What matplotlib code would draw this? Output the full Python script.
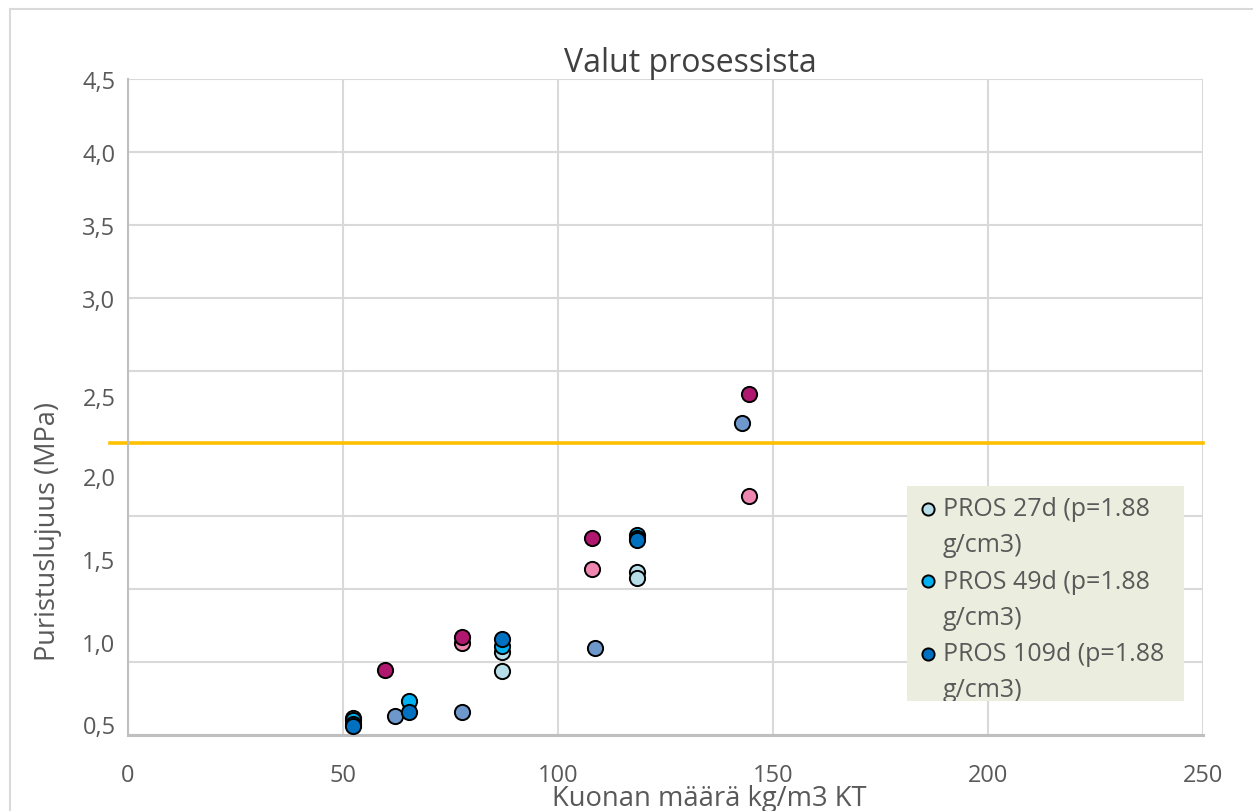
import matplotlib
matplotlib.use("Agg")
import matplotlib.pyplot as plt
from matplotlib.lines import Line2D
from matplotlib.patches import Rectangle
from matplotlib.transforms import Bbox, TransformedBbox

# --- data -------------------------------------------------------------
title = "Valut prosessista"
x_label = "Kuonan määrä kg/m3 KT"
y_label = "Puristuslujuus (MPa)"

pros27_x = [52.3, 87.0, 87.0, 118.4, 118.4]
pros27_y = [0.12, 0.57, 0.44, 1.12, 1.08]

pros49_x = [52.3, 65.3, 87.0, 118.4]
pros49_y = [0.10, 0.23, 0.61, 1.37]

pros109_x = [52.3, 52.3, 65.3, 87.0, 118.4, 118.4]
pros109_y = [0.075, 0.062, 0.158, 0.66, 1.35, 1.34]

steel_x = [62.1, 77.7, 108.6, 142.8]
steel_y = [0.13, 0.158, 0.60, 2.14]

pink_x = [77.7, 107.9, 144.4]
pink_y = [0.63, 1.14, 1.64]

magenta_x = [59.8, 77.7, 107.9, 144.4]
magenta_y = [0.445, 0.67, 1.35, 2.34]

limit_value = 2.0

legend_first_lines = ["PROS 27d (p=1.88", "PROS 49d (p=1.88", "PROS 109d (p=1.88"]
legend_second_line = "g/cm3)"

x_ticks = [0, 50, 100, 150, 200, 250]
grid_y = [0.0, 0.5, 1.0, 1.5, 2.0, 2.5, 3.0, 3.5, 4.0, 4.5]
y_tick_pos = [0.075, 0.637, 1.205, 1.774, 2.322, 3.0, 3.5, 4.0, 4.5]
y_tick_labels = ["0,5", "1,0", "1,5", "2,0", "2,5", "3,0", "3,5", "4,0", "4,5"]

# --- style ------------------------------------------------------------
plt.rcParams["font.family"] = ["Open Sans", "DejaVu Sans"]
text_color = "#595959"
grid_color = "#D9D9D9"

fig = plt.figure(figsize=(12.53, 8.12), dpi=100)
ax = fig.add_axes([0.1022, 0.0936, 0.8580, 0.8079])

# outer chart border
fig.add_artist(Rectangle((10 / 1253, -0.1), 1.2, 802 / 812 + 0.1,
                         transform=fig.transFigure, fill=False,
                         ec=grid_color, lw=1.5))

ms = 120
ec = "black"
lw = 1.4
ax.scatter(steel_x, steel_y, s=ms, c="#6E97CB", edgecolors=ec, linewidths=lw, zorder=3)
ax.scatter(pink_x, pink_y, s=ms, c="#EE86B0", edgecolors=ec, linewidths=lw, zorder=3)
ax.scatter(magenta_x, magenta_y, s=ms, c="#B0176E", edgecolors=ec, linewidths=lw, zorder=3)
h27 = ax.scatter(pros27_x, pros27_y, s=ms, c="#B7DEE8", edgecolors=ec, linewidths=lw, zorder=3)
h49 = ax.scatter(pros49_x, pros49_y, s=ms, c="#00B0F0", edgecolors=ec, linewidths=lw, zorder=3)
h109 = ax.scatter(pros109_x, pros109_y, s=ms, c="#0070C0", edgecolors=ec, linewidths=lw, zorder=3)

# strength limit line, extending slightly past the left axis
ax.axhline(limit_value, xmin=-0.017, xmax=1.0, color="#FFC000", lw=2.6,
           clip_on=False, zorder=2)

ax.set_xlim(0, 250)
ax.set_ylim(0, 4.5)

ax.set_xticks(x_ticks)
ax.set_xticklabels([str(v) for v in x_ticks])
ax.set_yticks(y_tick_pos)
ax.set_yticklabels(y_tick_labels)
ax.set_yticks(grid_y, minor=True)
ax.yaxis.remove_overlapping_locs = False
ax.tick_params(axis="both", which="both", length=0, labelsize=17, colors=text_color)
ax.tick_params(axis="y", which="major", pad=9)
ax.tick_params(axis="x", which="major", pad=20)

ax.grid(False, which="major", axis="y")
ax.grid(True, which="minor", axis="y", color=grid_color, lw=1.5)
ax.grid(True, which="major", axis="x", color=grid_color, lw=1.5)
ax.set_axisbelow(True)

for side in ["top", "right"]:
    ax.spines[side].set_visible(False)
ax.spines["left"].set_color("#BFBFBF")
ax.spines["left"].set_linewidth(1.5)
ax.spines["bottom"].set_color("#BFBFBF")
ax.spines["bottom"].set_linewidth(2.2)

ax.set_title(title, fontsize=23, color="#404040", pad=3, x=0.523)
ax.set_xlabel(x_label, fontsize=19.7, color=text_color)
ax.xaxis.set_label_coords(0.541, -0.074)
ax.set_ylabel(y_label, fontsize=19.5, color=text_color)
ax.yaxis.set_label_coords(-0.061, 0.311)

# legend: shaded box of fixed size, entries wrapped onto two lines
box = (0.7247, 0.052, 0.982, 0.380)
ax.add_patch(Rectangle((box[0], box[1]), box[2] - box[0], box[3] - box[1],
                       transform=ax.transAxes, facecolor="#EBEEDF",
                       edgecolor="none", zorder=4))
blank = Line2D([], [], linestyle="none")
handles, labels = [], []
for h, first in zip([h27, h49, h109], legend_first_lines):
    handles += [h, blank]
    labels += [first, legend_second_line]

leg = ax.legend(handles, labels, loc="upper left",
                bbox_to_anchor=(box[0], box[3]), frameon=False,
                fontsize=18, labelcolor=text_color, handletextpad=0.2,
                borderaxespad=0, borderpad=0.42, labelspacing=0.45,
                handlelength=0.8, markerscale=0.8)
leg.set_zorder(5)

# legend content is cut off at the bottom of the box
clip = TransformedBbox(Bbox([[box[0], box[1]], [box[2], box[3]]]), ax.transAxes)
for t in leg.get_texts():
    t.set_clip_box(clip)
    t.set_clip_on(True)
for h in leg.legend_handles:
    h.set_clip_box(clip)
    h.set_clip_on(True)

fig.savefig("out.png", dpi=100)
